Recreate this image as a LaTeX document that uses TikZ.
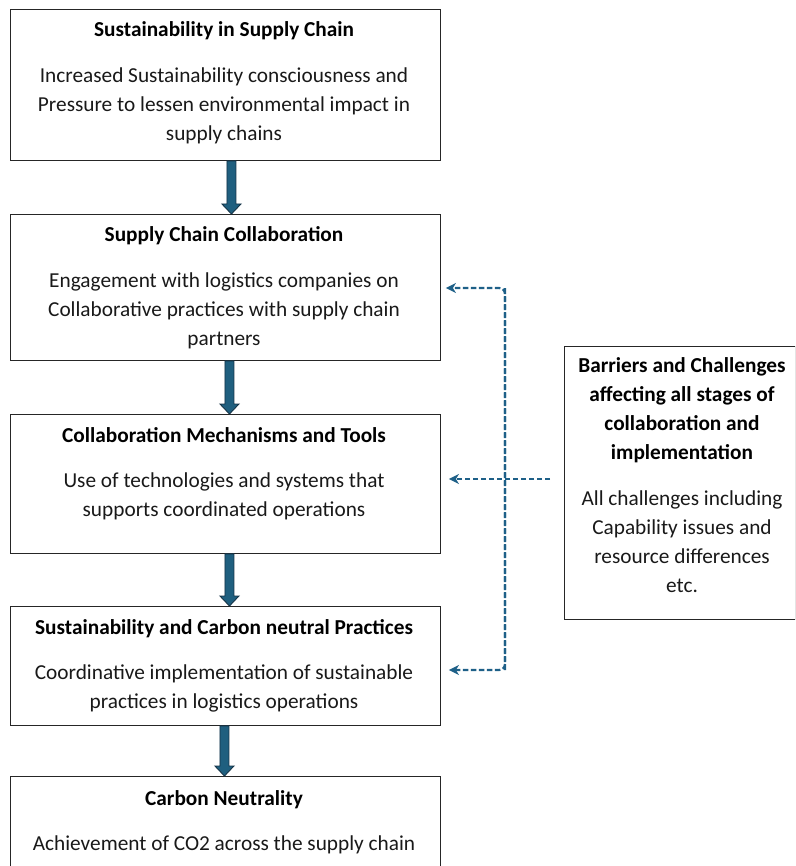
\documentclass[tikz,border=0pt]{standalone}
\usepackage{fontspec}
\setmainfont{Carlito}
\usetikzlibrary{calc,arrows.meta}
\definecolor{arrfill}{RGB}{31,95,127}
\definecolor{arrline}{RGB}{22,52,72}
\definecolor{dashcol}{RGB}{30,96,136}
\definecolor{txtcol}{RGB}{25,25,25}
\tikzset{
  box/.style={draw=black!85, line width=0.9pt, anchor=north west, inner sep=0pt},
  ttl/.style={font=\fontsize{21.3}{29}\selectfont\bfseries, align=center, inner sep=0pt, anchor=base},
  ttlm/.style={font=\fontsize{21.3}{29}\selectfont\bfseries, align=center, inner sep=0pt, anchor=north},
  txt/.style={font=\fontsize{21.3}{29}\selectfont, text=txtcol, align=center, inner sep=0pt, anchor=north},
  bar/.style={fill=arrfill, draw=arrline, line width=0.9pt, line join=miter},
  dconn/.style={draw=dashcol, line width=2.2pt, dash pattern=on 5.5pt off 2.5pt, -{Stealth[length=10pt,width=10pt,inset=3pt]}},
}
\newcommand\blockarrow[2]{%
  \filldraw[bar] let \p1=(#1), \p2=(#2) in
    ({\x1-4.5pt},\y1) -- ({\x1+4.5pt},\y1) -- ({\x1+4.5pt},{\y2+10pt}) -- ({\x1+9.5pt},{\y2+10pt})
    -- (\x1,\y2) -- ({\x1-9.5pt},{\y2+10pt}) -- ({\x1-4.5pt},{\y2+10pt}) -- cycle;}
\begin{document}
\begin{tikzpicture}[x=1pt,y=-1pt]
\useasboundingbox (0,0) rectangle (795,866);
\begin{scope}
\clip (0,0) rectangle (795,866);
\node[box, minimum width=430pt, minimum height=151pt] (b1) at (10,9) {};
\node[box, minimum width=430pt, minimum height=146pt] (b2) at (10,214) {};
\node[box, minimum width=430pt, minimum height=139pt] (b3) at (10,414) {};
\node[box, minimum width=430pt, minimum height=119pt] (b4) at (10,606) {};
\node[box, minimum width=430pt, minimum height=120pt] (b5) at (10,776) {};
\node[box, minimum width=231pt, minimum height=273pt] (b6) at (563.5,345.5) {};
\end{scope}

\node[ttl] (t1) at (224,37) {Sustainability in Supply Chain};
\node[txt] (x1) at (224,62.2) {\strut Increased Sustainability consciousness and\\Pressure to lessen environmental impact in\\supply chains};
\node[ttl] (t2) at (224,242) {Supply Chain Collaboration};
\node[txt] (x2) at (224,267.2) {\strut Engagement with logistics companies on\\Collaborative practices with supply chain\\partners};
\node[ttl] (t3) at (224,442) {Collaboration Mechanisms and Tools};
\node[txt] (x3) at (224,467.2) {\strut Use of technologies and systems that\\supports coordinated operations};
\node[ttl] (t4) at (224,634) {Sustainability and Carbon neutral Practices};
\node[txt] (x4) at (224,659.2) {\strut Coordinative implementation of sustainable\\practices in logistics operations};
\node[ttl] (t5) at (224,805) {Carbon Neutrality};
\node[txt] (x5) at (224,830.2) {\strut Achievement of CO2 across the supply chain};
\node[ttlm] (t6) at (682,351.7) {\strut Barriers and Challenges\\affecting all stages of\\collaboration and\\implementation};
\node[txt] (x6) at (682,484.7) {\strut All challenges including\\Capability issues and\\resource differences\\etc.};

\blockarrow{[xshift=6pt]b1.south}{[xshift=6pt]b2.north}
\blockarrow{[xshift=4pt]b2.south}{[xshift=4pt]b3.north}
\blockarrow{[xshift=4pt]b3.south}{[xshift=4pt]b4.north}
\blockarrow{[xshift=-1pt]b4.south}{[xshift=-1pt]b5.north}

\coordinate (src) at (550,479);
\coordinate (vtop) at (505,288);
\coordinate (vbot) at (505,670);
\coordinate (e2) at ([xshift=5pt]b2.east);
\coordinate (e3) at ([xshift=8pt]b3.east);
\coordinate (e4) at ([xshift=8pt]b4.east);
\draw[dconn] (src) -- (e3 |- src);
\draw[dconn, rounded corners=6pt] (vtop) -- (vbot) -- (e4 |- vbot);
\draw[dconn, rounded corners=6pt] (vbot) -- (vtop) -- (e2 |- vtop);
\end{tikzpicture}
\end{document}
